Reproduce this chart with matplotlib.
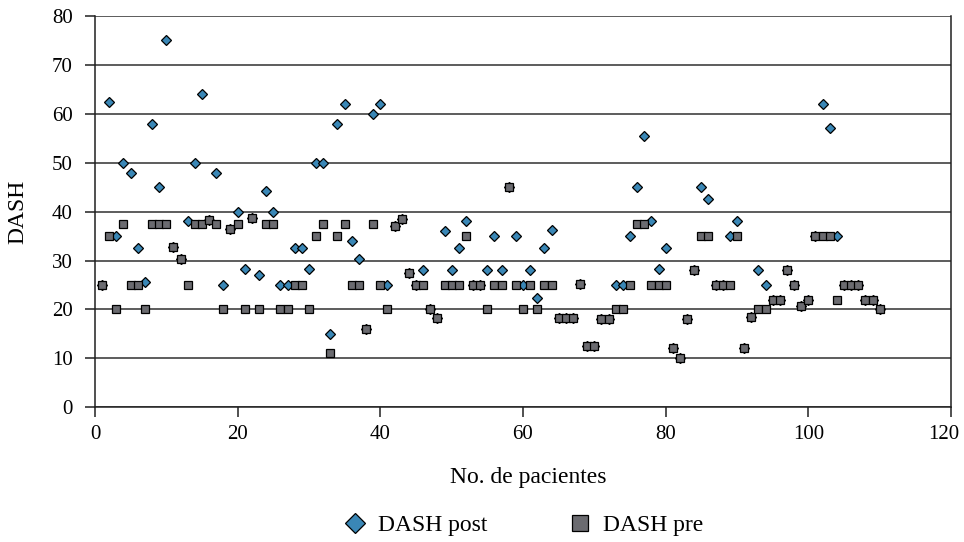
import matplotlib
matplotlib.use("Agg")
import matplotlib.pyplot as plt
from matplotlib.lines import Line2D
from matplotlib.transforms import ScaledTranslation

patients = list(range(1, 111))

dash_pre = [25, 35, 20, 37.5, 25, 25, 20, 37.5, 37.5, 37.5,
            32.7, 30.3, 25, 37.5, 37.5, 38.2, 37.5, 20, 36.4, 37.5,
            20, 38.6, 20, 37.5, 37.5, 20, 20, 25, 25, 20,
            35, 37.5, 11.2, 35, 37.5, 25, 25, 16, 37.5, 25,
            20, 37.1, 38.5, 27.4, 25, 25, 20, 18.3, 25, 25,
            25, 35, 25, 25, 20, 25, 25, 45, 25, 20,
            25, 20, 25, 25, 18.3, 18.3, 18.3, 25.3, 12.5, 12.5,
            18, 18, 20, 20, 25, 37.5, 37.5, 25, 25, 25,
            12.2, 10.1, 18, 28.1, 35, 35, 25, 25, 25, 35,
            12.1, 18.5, 20, 20, 22, 22, 28.1, 25, 20.8, 22,
            35, 35, 35, 22, 25, 25, 25, 22, 22, 20.2]

dash_post = [25, 62.5, 35, 50, 48, 32.5, 25.6, 58, 45, 75,
             32.7, 30.3, 38, 50, 64, 38.2, 48, 25, 36.4, 40,
             28.2, 38.6, 27, 44.3, 40, 25, 25, 32.5, 32.5, 28.2,
             50, 50, 15, 58, 62, 34, 30.3, 16, 60, 62,
             25, 37.1, 38.5, 27.4, 25, 28, 20, 18.3, 36, 28,
             32.5, 38, 25, 25, 28, 35, 28, 45, 35, 25,
             28, 22.4, 32.5, 36.3, 18.3, 18.3, 18.3, 25.3, 12.5, 12.5,
             18, 18, 25, 25, 35, 45, 55.5, 38, 28.3, 32.5,
             12.2, 10.1, 18, 28.1, 45, 42.5, 25, 25, 35, 38,
             12.1, 18.5, 28, 25, 22, 22, 28.1, 25, 20.8, 22,
             35, 62, 57, 35, 25, 25, 25, 22, 22, 20.2]

x_ticks = [0, 20, 40, 60, 80, 100, 120]
y_ticks = [0, 10, 20, 30, 40, 50, 60, 70, 80]

plt.rcParams['font.family'] = ['Liberation Serif', 'DejaVu Serif']

fig = plt.figure(figsize=(9.64, 5.42), dpi=100)
ax = fig.add_axes([0.0985, 0.2485, 0.888, 0.722])

blue = '#3a87b6'
gray = '#6b6b70'

ax.plot(patients, dash_post, linestyle='none', marker='D', ms=5.4,
        mfc=blue, mec='black', mew=0.9, label='DASH post', zorder=3)
ax.plot(patients, dash_pre, linestyle='none', marker='s', ms=5.9,
        mfc=gray, mec='black', mew=0.9, label='DASH pre', zorder=4)

ax.set_xlim(0, 120)
ax.set_ylim(0, 80)
ax.set_xticks(x_ticks)
ax.set_yticks(y_ticks)
ax.yaxis.grid(True, color='#303030', linewidth=1.1)
ax.set_axisbelow(True)
for s in ['left', 'bottom', 'right']:
    ax.spines[s].set_color('#202020')
    ax.spines[s].set_linewidth(1.1)
ax.spines['top'].set_visible(False)
ax.tick_params(axis='both', direction='out', length=7, width=1.1,
               color='#202020', labelsize=15)
ax.tick_params(axis='y', pad=9)
ax.tick_params(axis='x', pad=6)

# keep the last x tick label inside the canvas
last = ax.get_xticklabels()[-1]
last.set_transform(last.get_transform() + ScaledTranslation(-5 / 72, 0, fig.dpi_scale_trans))

ax.set_xlabel('No. de pacientes', fontsize=17)
ax.xaxis.set_label_coords(0.506, -0.152)
ax.set_ylabel('DASH', fontsize=17)
ax.yaxis.set_label_coords(-0.078, 0.5)

handles = [Line2D([], [], linestyle='none', marker='D', ms=10, mfc=blue, mec='black', mew=0.9),
           Line2D([], [], linestyle='none', marker='s', ms=11, mfc=gray, mec='black', mew=0.9)]
fig.legend(handles, ['DASH post', 'DASH pre'], loc='center', bbox_to_anchor=(0.5415, 0.031),
           ncol=2, frameon=False, fontsize=17, columnspacing=3.3, handletextpad=0.4,
           handlelength=1.2)

fig.savefig('out.png', dpi=100)
